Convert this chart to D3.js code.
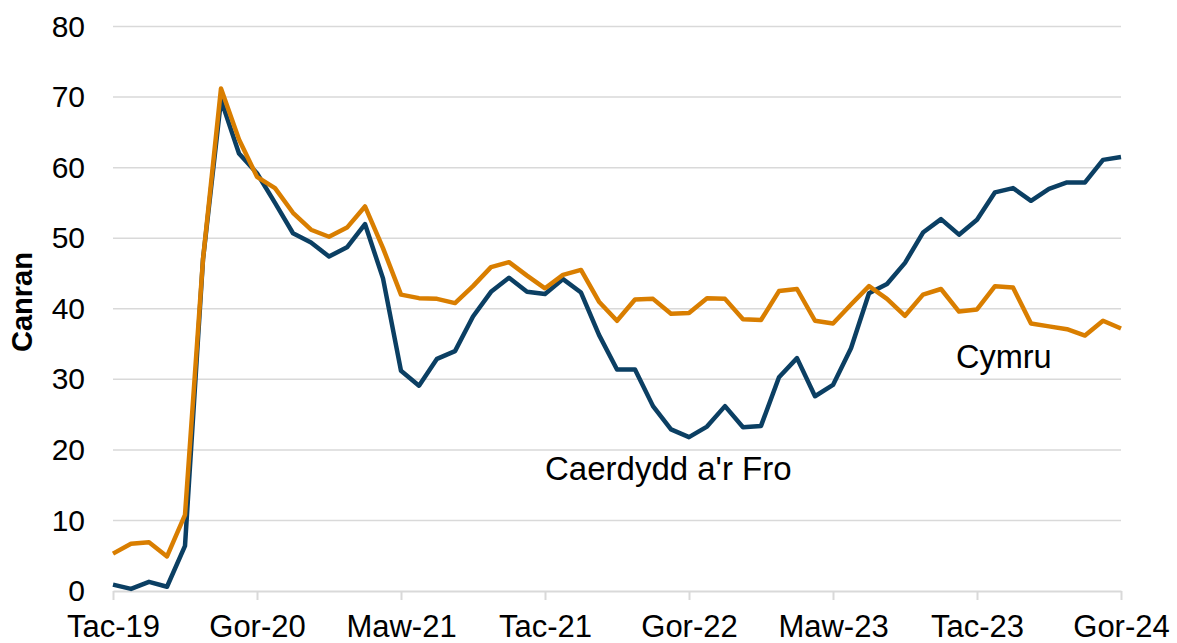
<!DOCTYPE html>
<html>
<head>
<meta charset="utf-8">
<script src="https://cdn.jsdelivr.net/npm/d3@7"></script>
<style>
  body { margin: 0; background: #fff; }
  text { font-family: "Liberation Sans", Arial, sans-serif; fill: #000; }
</style>
</head>
<body>
<svg></svg>
<script>
// monthly values, Tac-19 (Nov 2019) to Gor-24 (Jul 2024)
let caerdydd = [
  0.9, 0.3, 1.3, 0.6, 6.4, 47.0, 69.6, 62.0, 59.2, 55.0,
  50.7, 49.4, 47.4, 48.7, 52.0, 44.3, 31.2, 29.1, 32.9, 34.0,
  38.9, 42.4, 44.4, 42.4, 42.1, 44.2, 42.3, 36.3, 31.4, 31.4,
  26.2, 22.9, 21.8, 23.3, 26.2, 23.2, 23.4, 30.3, 33.0, 27.6,
  29.2, 34.4, 42.2, 43.5, 46.5, 50.8, 52.7, 50.5, 52.6, 56.5,
  57.1, 55.3, 57.0, 57.9, 57.9, 61.1, 61.5
];
let cymru = [
  5.3, 6.7, 6.9, 4.9, 10.8, 47.0, 71.2, 64.0, 58.7, 57.1,
  53.6, 51.2, 50.2, 51.5, 54.5, 48.6, 42.0, 41.5, 41.4, 40.8,
  43.2, 45.9, 46.6, 44.7, 42.9, 44.8, 45.5, 41.0, 38.3, 41.3,
  41.4, 39.3, 39.4, 41.5, 41.4, 38.5, 38.4, 42.5, 42.8, 38.3,
  37.9, 40.6, 43.2, 41.4, 39.0, 42.0, 42.8, 39.6, 39.9, 43.2,
  43.0, 37.9, 37.5, 37.1, 36.2, 38.3, 37.2
];
let tickLabels = ["Tac-19", "Gor-20", "Maw-21", "Tac-21", "Gor-22", "Maw-23", "Tac-23", "Gor-24"];
let yTicks = [0, 10, 20, 30, 40, 50, 60, 70, 80];

let width = 1177;
let height = 643;
let plotLeft = 113, plotRight = 1121, plotTop = 26.5, plotBottom = 591;

let svg = d3.select("svg").attr("width", width).attr("height", height);

let xScale = d3.scaleLinear().domain([0, caerdydd.length - 1]).range([plotLeft, plotRight]);
let yScale = d3.scaleLinear().domain([0, 80]).range([plotBottom, plotTop]);

// gridlines
svg.append("g")
  .selectAll("line")
  .data(yTicks.filter((d) => d > 0))
  .enter()
  .append("line")
  .attr("x1", plotLeft)
  .attr("x2", plotRight)
  .attr("y1", (d) => yScale(d))
  .attr("y2", (d) => yScale(d))
  .attr("stroke", "#d9d9d9")
  .attr("stroke-width", 1.5);

// y axis labels
let yAxis = d3.axisLeft(yScale).tickValues(yTicks).tickSize(0).tickPadding(28);
svg.append("g")
  .attr("transform", "translate(" + plotLeft + ",0)")
  .call(yAxis)
  .call((g) => g.select(".domain").remove())
  .selectAll("text")
  .style("font-size", "30px")
  .attr("font-family", null);

// x axis, a tick every 8 months
let xAxis = d3.axisBottom(xScale)
  .tickValues(d3.range(0, caerdydd.length, 8))
  .tickFormat((d, i) => tickLabels[i])
  .tickSizeInner(9)
  .tickSizeOuter(0)
  .tickPadding(15);
let gx = svg.append("g")
  .attr("transform", "translate(0," + plotBottom + ")")
  .call(xAxis);
gx.select(".domain").attr("stroke", "#d9d9d9").attr("stroke-width", 2);
gx.selectAll(".tick line").attr("stroke", "#d9d9d9").attr("stroke-width", 2);
gx.selectAll("text").style("font-size", "31px").attr("font-family", null);

svg.append("text")
  .attr("transform", "translate(32,302) rotate(-90)")
  .attr("text-anchor", "middle")
  .style("font-size", "29px")
  .style("font-weight", "bold")
  .text("Canran");

let line = d3.line()
  .x((d, i) => xScale(i))
  .y((d) => yScale(d));

svg.append("path")
  .datum(caerdydd)
  .attr("d", line)
  .attr("fill", "none")
  .attr("stroke", "#0b3f63")
  .attr("stroke-width", 4.5)
  .attr("stroke-linejoin", "round");

svg.append("path")
  .datum(cymru)
  .attr("d", line)
  .attr("fill", "none")
  .attr("stroke", "#d97e00")
  .attr("stroke-width", 4.5)
  .attr("stroke-linejoin", "round");

// series labels
svg.append("text")
  .attr("x", 545)
  .attr("y", 480)
  .style("font-size", "33px")
  .text("Caerdydd a'r Fro");

svg.append("text")
  .attr("x", 956)
  .attr("y", 368)
  .style("font-size", "32.5px")
  .text("Cymru");
</script>
</body>
</html>
